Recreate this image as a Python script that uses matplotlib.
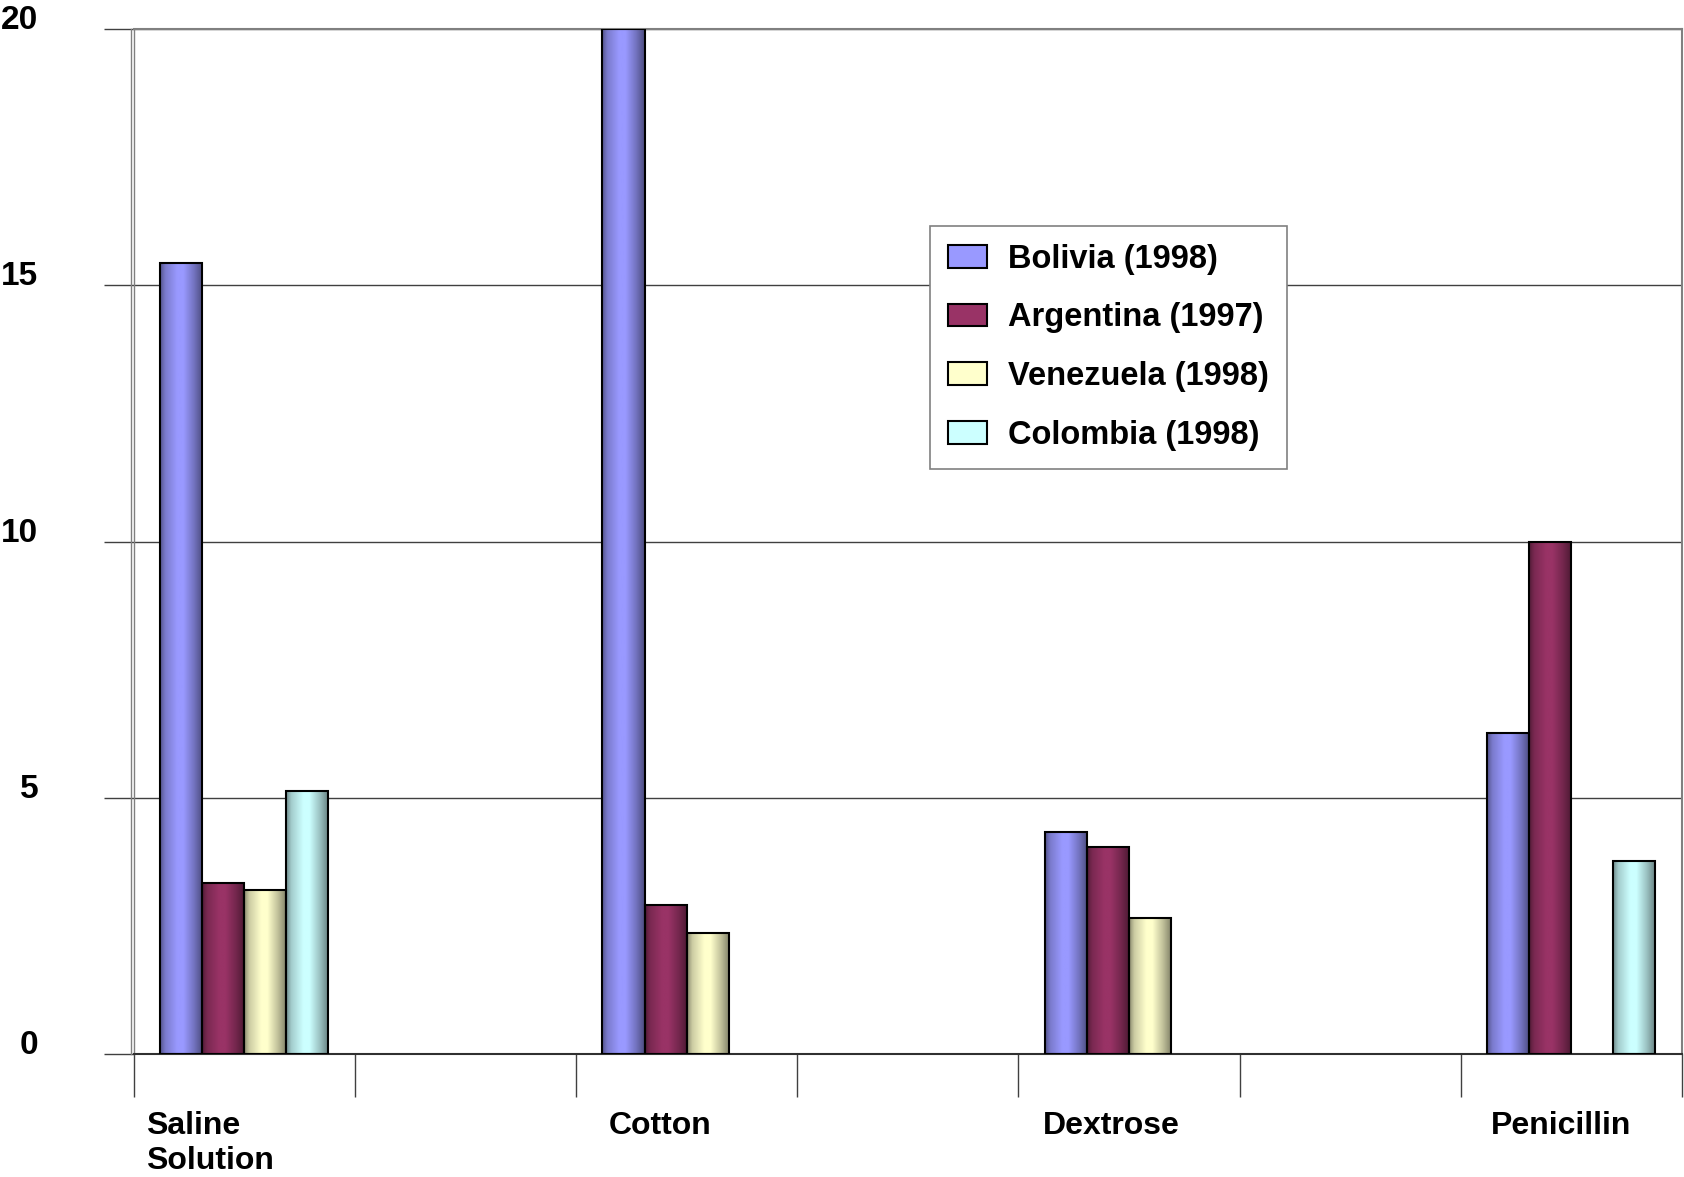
import numpy as np
import matplotlib
matplotlib.use("Agg")
import matplotlib.pyplot as plt
from matplotlib.transforms import ScaledTranslation

plt.rcParams['font.family'] = ['Liberation Sans', 'DejaVu Sans']
plt.rcParams['font.weight'] = 'bold'

# Data (blank categories are empty slots on the axis)
categories = ["Saline\nSolution", "", "Cotton", "", "Dextrose", "", "Penicillin"]
series_names = ["Bolivia (1998)", "Argentina (1997)", "Venezuela (1998)", "Colombia (1998)"]
bolivia = [15.43, np.nan, 20.0, np.nan, 4.33, np.nan, 6.26]
argentina = [3.33, np.nan, 2.91, np.nan, 4.03, np.nan, 10.0]
venezuela = [3.20, np.nan, 2.37, np.nan, 2.65, np.nan, np.nan]
colombia = [5.13, np.nan, np.nan, np.nan, np.nan, np.nan, 3.76]
series_values = [bolivia, argentina, venezuela, colombia]
colors = ["#9999FF", "#993366", "#FFFFCC", "#CCFFFF"]
y_ticks = [0, 5, 10, 15, 20]

W, H = 1684, 1177
fig = plt.figure(figsize=(W / 100, H / 100), dpi=100)
ax = fig.add_axes([133.5 / W, 1 - 1054 / H, (1682 - 133.5) / W, (1054 - 29) / H])

x = np.arange(len(categories))
bar_w = 0.19
offsets = (np.arange(len(series_names)) - 1.5) * bar_w

containers = []
for name, vals, c, off in zip(series_names, series_values, colors, offsets):
    bc = ax.bar(x + off, vals, width=bar_w, color=c, edgecolor="black",
                linewidth=1.5, zorder=3, label=name)
    containers.append(bc)

# legend before faces are swapped for gradients
leg = ax.legend(loc="upper left", bbox_to_anchor=(930 / W, 1 - 225.7 / H),
                bbox_transform=fig.transFigure, borderaxespad=0,
                fontsize=23.5, handlelength=1.2, handleheight=0.7,
                handletextpad=0.65, labelspacing=0.85, borderpad=0.55,
                fancybox=False, framealpha=1, edgecolor="#808080")
leg.get_frame().set_linewidth(1.2)
leg.set_zorder(10)

# cylinder-like shading on every bar
knots_t = [0, 0.12, 0.4, 0.55, 0.8, 1]
knots_m = [0.55, 0.8, 1.0, 1.0, 0.75, 0.5]
tt = np.linspace(0, 1, 64)
shade = np.interp(tt, knots_t, knots_m)
for bc, c in zip(containers, colors):
    rgb = np.array(matplotlib.colors.to_rgb(c))
    grad = np.clip(shade[:, None] * rgb[None, :], 0, 1)[None, :, :]
    for p in bc.patches:
        h = p.get_height()
        if not np.isfinite(h):
            continue
        x0 = p.get_x()
        ax.imshow(grad, extent=[x0, x0 + p.get_width(), 0, h], aspect="auto",
                  interpolation="bilinear", zorder=2.5)
        p.set_facecolor("none")

ax.set_xlim(-0.5, len(categories) - 0.5)
ax.set_ylim(0, 20)

# grid and frame
ax.set_axisbelow(True)
ax.yaxis.grid(True, color="#404040", linewidth=1)
ax.spines["top"].set_color("#808080")
ax.spines["top"].set_linewidth(1.5)
ax.spines["right"].set_color("#808080")
ax.spines["right"].set_linewidth(1.5)
ax.spines["left"].set_color("#808080")
ax.spines["left"].set_linewidth(1)
ax.spines["bottom"].set_color("#303030")
ax.spines["bottom"].set_linewidth(1.5)
ax.plot([0, 0], [0, 1], color="#808080", linewidth=1, clip_on=False,
        transform=ax.transAxes + ScaledTranslation(-3 / 100, 0, fig.dpi_scale_trans))

# y axis
ax.set_yticks(y_ticks)
ax.set_yticklabels([str(v) for v in y_ticks])
ax.tick_params(axis="y", length=21.6, width=1, color="#404040", pad=47,
               labelsize=24)
for lab in ax.get_yticklabels():
    lab.set_verticalalignment("baseline")
    lab.set_fontweight("bold")

# x axis: labels at categories, long ticks at slot boundaries
ax.set_xticks(x)
ax.set_xticklabels(categories)
ax.set_xticks(np.arange(-0.5, len(categories), 1), minor=True)
ax.tick_params(axis="x", which="major", length=0, pad=41, labelsize=23)
ax.tick_params(axis="x", which="minor", length=31, width=1, color="#404040")
for i, lab in enumerate(ax.get_xticklabels()):
    shift = ScaledTranslation((-34 + 4 * i) / 100, 0, fig.dpi_scale_trans)
    lab.set_transform(lab.get_transform() + shift)
    lab.set_multialignment("left")
    lab.set_fontweight("bold")

fig.savefig("out.png", dpi=100)
